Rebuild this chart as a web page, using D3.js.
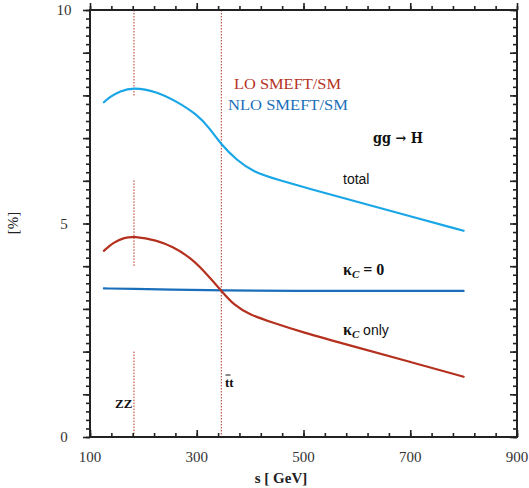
<!DOCTYPE html>
<html>
<head>
<meta charset="utf-8">
<script src="https://cdn.jsdelivr.net/npm/d3@7"></script>
<style>
	body { margin: 0; background: #fff; }
	svg { display: block; }
</style>
</head>
<body>
<div class="chart"></div>
<script>
// Values (s in GeV, ratio in %).
var sTotal = [126, 138, 156, 181, 225, 262, 300, 325, 345, 375, 406, 450, 512, 600, 700, 800];
var vTotal = [7.84, 7.97, 8.10, 8.19, 8.09, 7.86, 7.56, 7.22, 6.86, 6.48, 6.21, 6.03, 5.81, 5.51, 5.17, 4.83];
var sKappaOnly = [126, 144, 165, 181, 225, 256, 287, 312, 345, 369, 400, 440, 493, 600, 700, 800];
var vKappaOnly = [4.36, 4.56, 4.67, 4.70, 4.61, 4.45, 4.21, 3.91, 3.44, 3.09, 2.86, 2.69, 2.47, 2.10, 1.76, 1.41];
var sKappaZero = [126, 180, 250, 345, 500, 650, 800];
var vKappaZero = [3.48, 3.47, 3.45, 3.43, 3.42, 3.42, 3.42];
var thresholds = [182.4, 346];
var xTickLabels = [100, 300, 500, 700, 900];
var yTickLabels = [0, 5, 10];

var lightBlue = '#19a6e6',
	darkBlue = '#1b6fba',
	red = '#b5311f',
	frameColor = '#222',
	tickTextColor = '#333',
	serif = "'Liberation Serif', 'DejaVu Serif', serif",
	sans = "'Liberation Sans', Arial, sans-serif";

var margin = {top: 10, left: 90, bottom: 51, right: 12};
var width = 427, height = 427;

var x = d3.scaleLinear().domain([100, 900]).range([0, width]);
var y = d3.scaleLinear().domain([0, 10]).range([height, 0]);

var svg = d3.select('.chart').append('svg')
	.attr('width', 529)
	.attr('height', 488)
	.attr('font-family', serif)
.append('g')
	.attr('transform', 'translate(' + margin.left + ',' + margin.top + ')');

function zip(s, v) {
	return s.map(function(d, i) { return {s: d, v: v[i]}; });
}

// Threshold markers (dotted, ZZ one is broken where the curves sit).
var zzSegments = [[10, 7.99], [6.01, 4.0], [2.0, 0]];
zzSegments.forEach(function(seg) {
	svg.append('line')
		.attr('x1', x(thresholds[0])).attr('x2', x(thresholds[0]))
		.attr('y1', y(seg[0])).attr('y2', y(seg[1]))
		.attr('stroke', red).attr('stroke-width', 1)
		.attr('stroke-dasharray', '1.5,1.5');
});
svg.append('line')
	.attr('x1', x(thresholds[1])).attr('x2', x(thresholds[1]))
	.attr('y1', y(10)).attr('y2', y(0))
	.attr('stroke', red).attr('stroke-width', 1)
	.attr('stroke-dasharray', '1.5,1.5');

var line = d3.line()
	.x(function(d) { return x(d.s); })
	.y(function(d) { return y(d.v); })
	.curve(d3.curveBasis);

[[zip(sKappaZero, vKappaZero), darkBlue],
 [zip(sKappaOnly, vKappaOnly), red],
 [zip(sTotal, vTotal), lightBlue]].forEach(function(p) {
	svg.append('path')
		.datum(p[0])
		.attr('fill', 'none')
		.attr('stroke', p[1])
		.attr('stroke-width', 2.2)
		.attr('stroke-linecap', 'round')
		.attr('d', line);
});

// Ticks: minor and major, drawn with the d3 axis generators.
function ticks(axisFn, scale, values, size, transform) {
	var g = svg.append('g')
		.attr('transform', transform || null)
		.call(axisFn(scale).tickValues(values).tickSize(size).tickFormat(''));
	g.select('.domain').remove();
	g.selectAll('line').attr('stroke', frameColor).attr('stroke-width', 1.6);
	return g;
}
var xMinor = d3.range(100, 901, 40), xMajor = d3.range(100, 901, 200);
var yMinor = d3.range(0, 10.01, 0.2), yMajor = d3.range(0, 11, 1);

ticks(d3.axisLeft, y, yMinor, 4);
ticks(d3.axisLeft, y, yMajor, 7);
ticks(d3.axisLeft, y, yMinor, 4, 'translate(' + width + ',0)');
ticks(d3.axisLeft, y, yMajor, 7, 'translate(' + width + ',0)');
ticks(d3.axisTop, x, xMinor, 4);
ticks(d3.axisTop, x, xMajor, 7);
ticks(d3.axisTop, x, xMinor, 4, 'translate(0,' + height + ')');
ticks(d3.axisTop, x, xMajor, 7, 'translate(0,' + height + ')');

// Frame
svg.append('rect')
	.attr('width', width).attr('height', height)
	.attr('fill', 'none')
	.attr('stroke', frameColor)
	.attr('stroke-width', 2);

// Tick labels
svg.selectAll('.xlab').data(xTickLabels).enter().append('text')
	.attr('x', function(d) { return x(d); })
	.attr('y', height + 25)
	.attr('text-anchor', 'middle')
	.attr('font-size', '15px')
	.attr('fill', tickTextColor)
	.text(function(d) { return d; });
svg.selectAll('.ylab').data(yTickLabels).enter().append('text')
	.attr('x', -26)
	.attr('y', function(d) { return y(d) + 5; })
	.attr('text-anchor', 'middle')
	.attr('font-size', '15px')
	.attr('fill', tickTextColor)
	.text(function(d) { return d; });

// Axis titles
svg.append('text')
	.attr('transform', 'translate(' + (-72) + ',' + 213 + ') rotate(-90)')
	.attr('text-anchor', 'middle')
	.attr('font-size', '15px')
	.attr('fill', '#222')
	.text('[%]');
svg.append('text')
	.attr('x', 191)
	.attr('y', height + 46)
	.attr('text-anchor', 'middle')
	.attr('font-size', '15px')
	.attr('font-weight', 'bold')
	.attr('fill', '#222')
	.text('s [ GeV]');

// Annotations
function label(px, py, txt, opts) {
	var t = svg.append('text')
		.attr('x', px - margin.left)
		.attr('y', py - margin.top)
		.attr('font-size', opts.size || '15px')
		.attr('font-family', opts.family || serif)
		.attr('font-weight', opts.weight || 'normal')
		.attr('fill', opts.color || '#111');
	if (opts.length) t.attr('textLength', opts.length).attr('lengthAdjust', 'spacingAndGlyphs');
	t.text(txt);
	return t;
}
label(234, 89, 'LO SMEFT/SM', {color: red, length: 107});
label(228, 110, 'NLO SMEFT/SM', {color: darkBlue, length: 120});
label(373, 143, 'gg \u2192 H', {weight: 'bold', size: '14px', family: "'DejaVu Serif', serif", length: 50});
label(343, 184, 'total', {family: sans, size: '14px'});
label(115, 408, 'ZZ', {weight: 'bold', size: '13px'});
label(225, 387, 'tt', {weight: 'bold', size: '13px'});
svg.append('line')
	.attr('x1', 225.5 - margin.left).attr('x2', 230.5 - margin.left)
	.attr('y1', 375 - margin.top).attr('y2', 375 - margin.top)
	.attr('stroke', '#111').attr('stroke-width', 1);

var k0 = label(343, 275, '', {weight: 'bold', size: '16px'});
k0.append('tspan').text('\u03ba');
k0.append('tspan').attr('font-size', '11px').attr('font-style', 'italic').attr('dy', 3).text('C');
k0.append('tspan').attr('dy', -3).text(' = 0');
var k1 = label(343, 335, '', {weight: 'bold', size: '16px'});
k1.append('tspan').text('\u03ba');
k1.append('tspan').attr('font-size', '11px').attr('font-style', 'italic').attr('dy', 3).text('C');
k1.append('tspan').attr('dy', -3).attr('font-weight', 'normal')
	.attr('font-family', sans).attr('font-size', '14px').text(' only');
</script>
</body>
</html>
